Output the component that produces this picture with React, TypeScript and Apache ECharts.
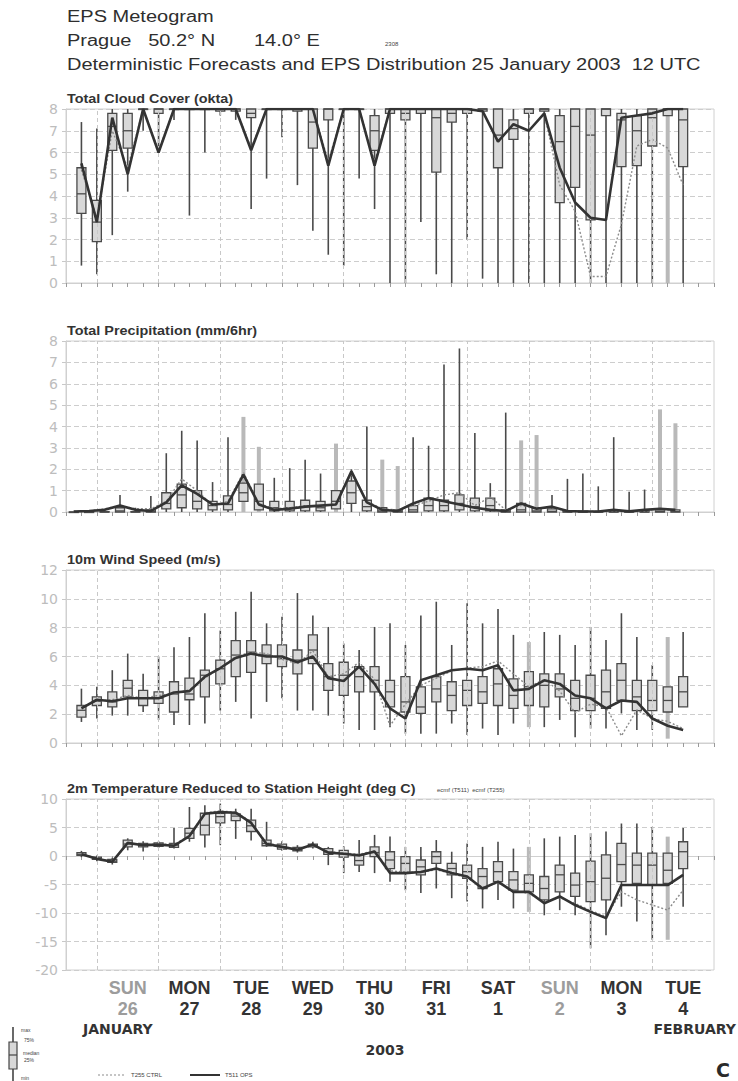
import React, { useEffect, useRef } from "react";
import * as echarts from "echarts";

// ---- time axis (hours after 25 January 2003 12 UTC) ----
const stepHours = [6, 12, 18, 24, 30, 36, 42, 48, 54, 60, 66, 72, 78, 84, 90, 96, 102, 108, 114, 120,
  126, 132, 138, 144, 150, 156, 162, 168, 174, 180, 186, 192, 198, 204, 210, 216, 222, 228, 234, 240];
const precipHours = [3, 9, 15, 21, 27, 33, 39, 45, 51, 57, 63, 69, 75, 81, 87, 93, 99, 105, 111, 117,
  123, 129, 135, 141, 147, 153, 159, 165, 171, 177, 183, 189, 195, 201, 207, 213, 219, 225, 231, 237];
const midnightHours = [12, 36, 60, 84, 108, 132, 156, 180, 204, 228];
const noonHours = [24, 48, 72, 96, 120, 144, 168, 192, 216, 240];
const dayNames = ["SUN", "MON", "TUE", "WED", "THU", "FRI", "SAT", "SUN", "MON", "TUE"];
const dayDates = ["26", "27", "28", "29", "30", "31", "1", "2", "3", "4"];

// ---- Total cloud cover (okta) ----
const cloudMin = [0.8, 0.4, 2.2, 4.2, 7.0, 6.0, 7.5, 3.1, 6.0, 7.7, 7.5, 3.4, 4.8, 6.7, 4.5, 2.4, 1.3, 0.8, 4.8, 3.4,
  0, 0, 2.8, 0.4, 0, 2.0, 0.2, 0, 0, 0, 0, 0, 0, 0, 0, 0, 0, 0, 0, 0];
const cloudQ1 = [3.2, 1.9, 6.1, 6.2, 8, 7.8, 8, 8, 8, 7.9, 7.9, 7.6, 8, 8, 7.9, 6.2, 7.5, 8, 8, 6.1,
  7.8, 7.5, 7.8, 5.1, 7.4, 7.8, 7.9, 5.3, 6.6, 7.8, 7.9, 3.7, 4.4, 2.9, 7.7, 5.35, 5.4, 6.3, 7.7, 5.35];
const cloudMed = [4.1, 2.8, 7.2, 7.0, 8, 8, 8, 8, 8, 8, 8, 7.8, 8, 8, 8, 7.4, 8, 8, 8, 7.0,
  8, 7.8, 8, 7.6, 7.8, 8, 8, 6.8, 7.1, 8, 8, 6.5, 7.2, 6.8, 8, 7.5, 7.0, 7.6, 8, 7.5];
const cloudQ3 = [5.3, 3.8, 7.8, 7.8, 8, 8, 8, 8, 8, 8, 8, 8, 8, 8, 8, 8, 8, 8, 8, 7.7,
  8, 8, 8, 8, 8, 8, 8, 8, 7.5, 8, 8, 7.7, 8, 8, 8, 7.8, 7.7, 8, 8, 8];
const cloudMax = [7.4, 7.1, 8, 8, 8, 8, 8, 8, 8, 8, 8, 8, 8, 8, 8, 8, 8, 8, 8, 8,
  8, 8, 8, 8, 8, 8, 8, 8, 8, 8, 8, 8, 8, 8, 8, 8, 8, 8, 8, 8];
const cloudOps = [5.5, 2.8, 7.6, 5.0, 8, 6.0, 8, 8, 8, 8, 8, 6.1, 8, 8, 8, 8, 5.4, 8, 8, 5.4,
  8, 8, 8, 8, 8, 8, 7.9, 6.5, 7.3, 7.0, 7.8, 5.3, 3.7, 3.0, 2.9, 7.6, 7.7, 7.8, 8, 8];
const cloudCtrl = [5.2, 3.0, 7.0, 5.3, 8, 6.1, 8, 8, 8, 8, 8, 6.2, 8, 8, 8, 8, 5.6, 8, 8, 5.6,
  8, 8, 8, 8, 8, 8, 7.9, 6.5, 7.3, 7.0, 7.8, 4.5, 3.3, 0.3, 0.3, 2.7, 6.3, 6.6, 6.2, 4.5];
const cloudFaint = [39];

// ---- Total precipitation (mm/6hr) ----
const precipMin = [0, 0, 0, 0, 0, 0, 0, 0, 0, 0, 0, 0, 0, 0, 0, 0, 0, 0, 0, 0,
  0, 0, 0, 0, 0, 0, 0, 0, 0, 0, 0, 0, 0, 0, 0, 0, 0, 0, 0, 0];
const precipQ1 = [0, 0, 0, 0, 0, 0, 0.15, 0.2, 0.15, 0.1, 0.1, 0.5, 0.1, 0.05, 0.05, 0.05, 0.05, 0.15, 0.4, 0.05,
  0, 0, 0, 0.05, 0.05, 0.1, 0.05, 0.05, 0, 0, 0, 0, 0, 0, 0, 0, 0, 0, 0, 0];
const precipMed = [0, 0, 0, 0.05, 0, 0.02, 0.4, 0.8, 0.5, 0.3, 0.35, 0.9, 0.5, 0.2, 0.2, 0.25, 0.2, 0.5, 0.9, 0.25,
  0.05, 0.02, 0.1, 0.3, 0.3, 0.4, 0.25, 0.3, 0.02, 0.1, 0.05, 0.03, 0, 0, 0, 0, 0, 0, 0.02, 0.02];
const precipQ3 = [0, 0, 0.02, 0.2, 0.02, 0.1, 0.9, 1.3, 1.0, 0.5, 0.75, 1.35, 1.3, 0.5, 0.5, 0.55, 0.5, 1.0, 1.45, 0.55,
  0.2, 0.1, 0.3, 0.65, 0.55, 0.8, 0.65, 0.65, 0.1, 0.4, 0.2, 0.15, 0.05, 0.05, 0.02, 0.05, 0.02, 0.05, 0.1, 0.1];
const precipMax = [0.02, 0.05, 0.15, 0.8, 0.2, 0.75, 2.75, 3.8, 3.35, 1.4, 3.5, 4.45, 3.05, 1.6, 2.05, 2.45, 1.8, 3.2, 2.0, 4.0,
  2.45, 2.15, 3.5, 3.1, 6.9, 7.65, 3.7, 1.35, 4.65, 3.35, 3.6, 0.8, 1.55, 1.8, 1.2, 3.5, 0.95, 1.05, 4.8, 4.15];
const precipOps = [0.02, 0.05, 0.1, 0.3, 0.1, 0.05, 0.45, 1.25, 0.85, 0.35, 0.4, 1.75, 0.35, 0.1, 0.15, 0.25, 0.3, 0.35, 1.9, 0.45,
  0.1, 0.05, 0.4, 0.65, 0.5, 0.35, 0.2, 0.1, 0.05, 0.4, 0.15, 0.25, 0.05, 0.02, 0.02, 0.1, 0.03, 0.1, 0.15, 0.1];
const precipCtrl = [0.02, 0.05, 0.15, 0.3, 0.15, 0.15, 0.5, 1.55, 1.0, 0.3, 0.5, 1.85, 0.4, 0.15, 0.2, 0.3, 0.25, 0.4, 1.8, 0.5,
  0.15, 0.1, 0.3, 0.5, 0.8, 0.9, 0.3, 0.7, 0.1, 0.3, 0.2, 0.2, 0.05, 0.05, 0.03, 0.05, 0.03, 0.05, 0.1, 0.1];
const precipFaint = [12, 13, 18, 21, 22, 30, 31, 39, 40];

// ---- 10m wind speed (m/s) ----
const windMin = [1.46, 1.7, 1.9, 1.9, 2.15, 1.6, 1.25, 1.25, 1.35, 2.25, 2.85, 1.7, 2.85, 3.1, 2.25, 2.25, 1.9, 1.35, 0.9, 0.9,
  1.1, 0.65, 0.65, 0.65, 1.35, 0.55, 1.0, 0.55, 1.35, 1.1, 1.1, 1.6, 0.4, 1.0, 1.0, 2.05, 0.9, 0.9, 0.3, 2.5];
const windQ1 = [1.8, 2.6, 2.5, 3.2, 2.6, 2.75, 2.15, 3.0, 3.2, 4.1, 4.6, 4.9, 5.5, 5.3, 4.8, 5.5, 3.65, 3.3, 3.55, 3.55,
  2.5, 2.15, 2.05, 2.85, 2.25, 2.6, 2.75, 2.6, 2.4, 2.6, 2.5, 3.2, 2.25, 2.25, 2.4, 2.95, 2.25, 2.25, 2.15, 2.5];
const windMed = [2.27, 2.9, 2.85, 3.8, 3.1, 3.1, 3.4, 3.4, 4.7, 5.15, 6.1, 6.3, 6.1, 5.85, 5.75, 6.45, 4.6, 4.7, 4.6, 4.35,
  3.55, 2.85, 2.5, 3.75, 3.3, 3.65, 3.55, 4.1, 3.3, 3.9, 4.0, 3.75, 3.1, 3.1, 3.55, 4.35, 3.2, 2.95, 2.95, 3.55];
const windQ3 = [2.6, 3.2, 3.55, 4.35, 3.65, 3.55, 4.25, 4.5, 5.05, 5.75, 7.1, 7.1, 6.8, 6.8, 6.45, 7.5, 5.5, 5.6, 5.3, 5.3,
  4.35, 4.6, 3.9, 4.6, 4.25, 4.35, 4.6, 5.15, 4.45, 4.95, 4.8, 4.8, 4.35, 4.7, 5.05, 5.5, 4.35, 4.35, 3.9, 4.6];
const windMax = [3.77, 3.9, 5.05, 6.2, 4.8, 6.0, 6.65, 7.35, 9.0, 7.8, 9.1, 10.5, 8.3, 8.75, 10.4, 8.85, 8.05, 6.9, 6.45, 8.05,
  8.3, 6.8, 8.85, 9.8, 6.8, 9.7, 8.3, 9.3, 7.5, 7.0, 7.7, 7.5, 6.8, 8.05, 7.15, 9.0, 7.35, 5.4, 7.35, 7.7];
const windOps = [2.4, 3.0, 2.9, 3.1, 3.1, 3.1, 3.5, 3.6, 4.6, 5.2, 5.9, 6.2, 6.0, 6.0, 5.6, 6.0, 4.5, 4.3, 5.3, 4.1,
  2.4, 1.7, 4.35, 4.7, 5.05, 5.15, 5.05, 5.4, 3.65, 3.75, 4.35, 4.1, 3.3, 3.1, 2.4, 2.95, 2.85, 1.7, 1.2, 0.9];
const windCtrl = [2.5, 2.9, 3.0, 3.3, 3.1, 3.3, 3.4, 3.7, 4.5, 5.2, 6.0, 6.3, 6.2, 5.8, 5.5, 6.4, 4.6, 4.8, 5.6, 4.4,
  1.2, 2.7, 4.0, 4.5, 5.0, 5.2, 5.3, 5.7, 4.8, 3.9, 4.4, 3.6, 2.1, 2.7, 2.5, 0.5, 2.3, 1.7, 1.5, 1.0];
const windFaint = [30, 39];

// ---- 2m temperature (deg C) ----
const tempMin = [-0.2, -0.9, -1.5, 1.0, 0.8, 1.4, 1.3, 2.5, 1.5, 1.9, 3.0, 2.7, 1.6, 0.9, 0.6, 1.3, -1.6, -3.0, -2.8, -3.0,
  -4.5, -6.0, -6.5, -5.7, -7.4, -8.0, -9.2, -7.7, -9.2, -9.8, -10.4, -9.5, -10.4, -16.2, -13.9, -8.9, -11.5, -14.7, -14.7, -8.9];
const tempQ1 = [0.1, -0.6, -1.1, 1.6, 1.6, 1.7, 1.5, 3.1, 3.7, 5.8, 6.2, 4.3, 1.8, 1.2, 0.9, 1.6, 0.3, -0.2, -1.6, -0.1,
  -2.2, -3.0, -3.3, -1.3, -3.3, -3.9, -5.7, -4.5, -6.0, -6.3, -7.7, -6.3, -7.1, -8.0, -7.7, -4.5, -4.8, -5.1, -4.8, -2.2];
const tempMed = [0.3, -0.4, -0.9, 2.1, 1.9, 2.0, 1.9, 4.0, 5.4, 6.9, 7.0, 5.3, 2.2, 1.6, 1.1, 1.9, 0.7, 0.4, -0.8, 0.6,
  -0.7, -1.3, -1.9, -0.1, -2.2, -2.75, -3.6, -2.75, -4.2, -4.8, -5.7, -3.3, -5.1, -4.5, -3.9, -1.5, -1.6, -1.6, -2.5, 0.75];
const tempQ3 = [0.6, -0.2, -0.6, 2.8, 2.2, 2.3, 2.2, 4.85, 7.5, 7.5, 7.4, 6.3, 2.8, 2.1, 1.5, 2.1, 1.3, 1.0, 0.3, 1.6,
  0.75, -0.1, -0.7, 0.75, -1.3, -1.6, -2.2, -1.0, -2.75, -3.3, -3.6, -1.6, -3.0, -0.9, 0.2, 2.2, 0.5, 0.5, 0.5, 2.5];
const tempMax = [0.9, 0.1, -0.3, 3.1, 2.6, 2.6, 4.9, 8.6, 8.9, 9.2, 8.3, 8.3, 6.0, 2.6, 1.9, 2.5, 1.6, 1.7, 2.8, 3.7,
  3.4, 1.6, 1.6, 2.8, 0.75, 2.2, 1.6, 2.5, 1.3, 1.6, 3.1, 3.4, 3.7, 4.0, 4.3, 5.7, 5.7, 5.1, 3.4, 4.9];
const tempOps = [0.3, -0.5, -1.0, 2.3, 1.9, 2.0, 1.8, 3.5, 7.4, 7.7, 7.6, 5.8, 2.1, 1.6, 1.1, 2.0, 0.6, 0.4, 0.1, 0.8,
  -3.0, -3.0, -2.8, -2.2, -3.0, -3.6, -5.7, -4.5, -6.3, -6.3, -8.3, -7.1, -8.6, -9.8, -10.9, -5.1, -5.1, -5.1, -5.1, -3.3];
const tempCtrl = [0.4, -0.4, -1.0, 2.1, 2.0, 2.1, 2.0, 3.6, 7.6, 7.9, 7.7, 6.0, 2.3, 1.7, 1.2, 2.0, 0.8, 0.5, 0.3, 0.9,
  -2.6, -2.8, -2.9, -2.4, -3.1, -3.8, -5.5, -4.7, -6.0, -6.6, -8.0, -7.3, -8.3, -9.6, -10.6, -6.3, -7.7, -8.6, -9.5, -6.0];
const tempFaint = [30, 39];

const TEXT_FONT = '"Liberation Sans", Arial, sans-serif';
const AXIS_FONT = '"DejaVu Sans", sans-serif';

type Panel = {
  title: string;
  top: number;
  height: number;
  yMin: number;
  yMax: number;
  yStep: number;
  hours: number[];
  mn: number[];
  q1: number[];
  md: number[];
  q3: number[];
  mx: number[];
  ops: number[];
  ctrl: number[];
  faint: number[];
};

const panels: Panel[] = [
  { title: "Total Cloud Cover (okta)", top: 109, height: 174, yMin: 0, yMax: 8, yStep: 1, hours: stepHours,
    mn: cloudMin, q1: cloudQ1, md: cloudMed, q3: cloudQ3, mx: cloudMax, ops: cloudOps, ctrl: cloudCtrl, faint: cloudFaint },
  { title: "Total Precipitation (mm/6hr)", top: 341, height: 171, yMin: 0, yMax: 8, yStep: 1, hours: precipHours,
    mn: precipMin, q1: precipQ1, md: precipMed, q3: precipQ3, mx: precipMax, ops: precipOps, ctrl: precipCtrl, faint: precipFaint },
  { title: "10m Wind Speed (m/s)", top: 570, height: 173, yMin: 0, yMax: 12, yStep: 2, hours: stepHours,
    mn: windMin, q1: windQ1, md: windMed, q3: windQ3, mx: windMax, ops: windOps, ctrl: windCtrl, faint: windFaint },
  { title: "2m Temperature Reduced to Station Height (deg C)", top: 799, height: 171, yMin: -20, yMax: 10, yStep: 5, hours: stepHours,
    mn: tempMin, q1: tempQ1, md: tempMed, q3: tempQ3, mx: tempMax, ops: tempOps, ctrl: tempCtrl, faint: tempFaint },
];

const GRID_LEFT = 66;
const GRID_RIGHT = 24;

function boxRenderer(params: any, api: any) {
  const x = api.value(0);
  const pMin = api.coord([x, api.value(1)]);
  const pQ1 = api.coord([x, api.value(2)]);
  const pMed = api.coord([x, api.value(3)]);
  const pQ3 = api.coord([x, api.value(4)]);
  const pMax = api.coord([x, api.value(5)]);
  const light = api.value(6) === 1;
  const w = 9;
  return {
    type: "group",
    children: [
      {
        type: "line",
        shape: { x1: pMax[0], y1: pMax[1], x2: pMin[0], y2: pMin[1] },
        style: { stroke: light ? "#b9b9b9" : "#4a4a4a", lineWidth: light ? 4 : 1.6 },
      },
      {
        type: "rect",
        shape: { x: pQ3[0] - w / 2, y: pQ3[1], width: w, height: Math.max(pQ1[1] - pQ3[1], 0.5) },
        style: { fill: "#d8d8d8", stroke: "#4a4a4a", lineWidth: 1.3 },
      },
      {
        type: "line",
        shape: { x1: pMed[0] - w / 2, y1: pMed[1], x2: pMed[0] + w / 2, y2: pMed[1] },
        style: { stroke: "#4a4a4a", lineWidth: 1.3 },
      },
    ],
  };
}

function dayLabel(value: number) {
  const i = noonHours.indexOf(value);
  if (i < 0) return "";
  const sunday = dayNames[i] === "SUN";
  return sunday ? `{s|${dayNames[i]}}\n{s|${dayDates[i]}}` : `{d|${dayNames[i]}}\n{d|${dayDates[i]}}`;
}

function buildOption() {
  const grid: any[] = [];
  const xAxis: any[] = [];
  const yAxis: any[] = [];
  const series: any[] = [];

  panels.forEach((p, gi) => {
    grid.push({
      left: GRID_LEFT,
      right: GRID_RIGHT,
      top: p.top,
      height: p.height,
      show: true,
      borderColor: "#d0d0d0",
      borderWidth: 1,
    });
    const last = gi === panels.length - 1;
    xAxis.push({
      type: "value",
      gridIndex: gi,
      min: 0,
      max: 252,
      interval: 6,
      axisLine: { show: true, lineStyle: { color: "#d0d0d0" } },
      axisTick: { show: true, length: 4, lineStyle: { color: "#9a9a9a" } },
      splitLine: { show: false },
      axisLabel: last
        ? {
            show: true,
            margin: 7,
            formatter: dayLabel,
            rich: {
              d: { fontFamily: TEXT_FONT, fontWeight: "bold", fontSize: 18, color: "#333", lineHeight: 21, align: "center" },
              s: { fontFamily: TEXT_FONT, fontWeight: "bold", fontSize: 18, color: "#9c9c9c", lineHeight: 21, align: "center" },
            },
          }
        : { show: false },
    });
    yAxis.push({
      type: "value",
      gridIndex: gi,
      min: p.yMin,
      max: p.yMax,
      interval: p.yStep,
      axisLine: { show: true, lineStyle: { color: "#d0d0d0" } },
      axisTick: { show: true, length: 4, lineStyle: { color: "#c8c8c8" } },
      axisLabel: { color: "#bdbdbd", fontSize: 14, fontFamily: AXIS_FONT, margin: 8 },
      splitLine: { show: true, lineStyle: { color: "#cdcdcd", type: [5, 3], width: 1 } },
    });

    // dashed day separators at 00 UTC
    series.push({
      type: "line",
      xAxisIndex: gi,
      yAxisIndex: gi,
      data: [],
      silent: true,
      z: 1,
      markLine: {
        silent: true,
        symbol: ["none", "none"],
        label: { show: false },
        animation: false,
        lineStyle: { color: "#c8c8c8", type: [4, 3], width: 1 },
        data: midnightHours.map((h) => ({ xAxis: h })),
      },
    });

    series.push({
      type: "custom",
      name: "EPS",
      xAxisIndex: gi,
      yAxisIndex: gi,
      z: 3,
      silent: true,
      encode: { x: 0, y: [1, 2, 3, 4, 5] },
      data: p.hours.map((h, i) => [h, p.mn[i], p.q1[i], p.md[i], p.q3[i], p.mx[i], p.faint.includes(i + 1) ? 1 : 0]),
      renderItem: boxRenderer,
    });

    series.push({
      type: "line",
      name: "T255 CTRL",
      xAxisIndex: gi,
      yAxisIndex: gi,
      z: 4,
      silent: true,
      symbol: "none",
      data: p.hours.map((h, i) => [h, p.ctrl[i]]),
      lineStyle: { color: "#8c8c8c", width: 1.4, type: [2, 2] },
    });

    series.push({
      type: "line",
      name: "T511 OPS",
      xAxisIndex: gi,
      yAxisIndex: gi,
      z: 5,
      silent: true,
      symbol: "none",
      data: p.hours.map((h, i) => [h, p.ops[i]]),
      lineStyle: { color: "#333", width: 2.6 },
    });
  });

  const headerText = (text: string, y: number) => ({
    type: "text",
    x: 67,
    y,
    scaleX: 1.25,
    style: { text, fontSize: 16, fontFamily: TEXT_FONT, fill: "#2e2e2e", textVerticalAlign: "middle", verticalAlign: "middle" },
  });

  const titleText = (text: string, y: number) => ({
    type: "text",
    x: 67,
    y,
    scaleX: 1.2,
    style: { text, fontSize: 12, fontWeight: "bold", fontFamily: TEXT_FONT, fill: "#333", textVerticalAlign: "middle", verticalAlign: "middle" },
  });

  const tiny = (text: string, x: number, y: number, size = 6) => ({
    type: "text",
    x,
    y,
    style: { text, fontSize: size, fontFamily: TEXT_FONT, fill: "#444", textVerticalAlign: "middle", verticalAlign: "middle" },
  });

  const boldText = (text: string, x: number, y: number, align: string) => ({
    type: "text",
    x,
    y,
    style: {
      text, fontSize: 14, fontWeight: "bold", fontFamily: AXIS_FONT, fill: "#333",
      textAlign: align, align, textVerticalAlign: "middle", verticalAlign: "middle",
    },
  });

  const graphic: any[] = [
    headerText("EPS Meteogram", 17),
    headerText("Prague   50.2° N       14.0° E", 41),
    tiny("2308", 385, 44, 6),
    headerText("Deterministic Forecasts and EPS Distribution 25 January 2003  12 UTC", 65),
    ...panels.map((p) => titleText(p.title, p.top - 10)),
    tiny("ecmf (T511)  ecmf (T255)", 437, 790, 6),
    boldText("JANUARY", 83, 1029, "left"),
    boldText("FEBRUARY", 736, 1029, "right"),
    boldText("2003", 385, 1050, "center"),
    // box-and-whisker key
    { type: "line", shape: { x1: 13, y1: 1027, x2: 13, y2: 1081 }, style: { stroke: "#444", lineWidth: 1.6 } },
    { type: "rect", shape: { x: 9, y: 1042, width: 8, height: 27 }, style: { fill: "#d8d8d8", stroke: "#444", lineWidth: 1.2 } },
    { type: "line", shape: { x1: 9, y1: 1055, x2: 17, y2: 1055 }, style: { stroke: "#444", lineWidth: 1.2 } },
    tiny("max", 21, 1030, 5),
    tiny("75%", 24, 1040, 5),
    tiny("median", 23, 1053, 5),
    tiny("25%", 24, 1060, 5),
    tiny("min", 21, 1078, 5),
    // line key
    { type: "line", shape: { x1: 98, y1: 1075, x2: 125, y2: 1075 }, style: { stroke: "#8c8c8c", lineWidth: 1.2, lineDash: [2, 2] } },
    tiny("T255 CTRL", 131, 1075, 6),
    { type: "line", shape: { x1: 190, y1: 1075, x2: 220, y2: 1075 }, style: { stroke: "#333", lineWidth: 2 } },
    tiny("T511 OPS", 225, 1075, 6),
    {
      type: "text",
      x: 716,
      y: 1070,
      style: { text: "C", fontSize: 19, fontWeight: "bold", fontFamily: AXIS_FONT, fill: "#2a2a2a", textVerticalAlign: "middle", verticalAlign: "middle" },
    },
  ];

  return {
    animation: false,
    backgroundColor: "#ffffff",
    textStyle: { fontFamily: TEXT_FONT },
    grid,
    xAxis,
    yAxis,
    series,
    graphic,
  };
}

export default function App() {
  const ref = useRef<HTMLDivElement>(null);
  useEffect(() => {
    if (!ref.current) return;
    const chart = echarts.init(ref.current, undefined, { renderer: "svg" });
    chart.setOption(buildOption() as any);
    return () => chart.dispose();
  }, []);
  return (
    <div
      ref={ref}
      style={{ position: "absolute", left: 0, top: 0, width: 738, height: 1081, background: "#fff" }}
    />
  );
}
